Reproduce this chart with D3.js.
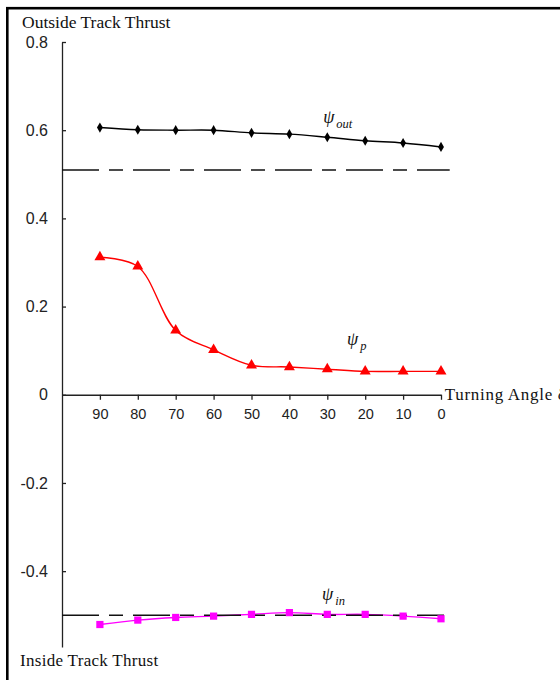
<!DOCTYPE html>
<html lang="en">
<head>
    <meta charset="UTF-8">
    <title>Track Thrust vs Turning Angle</title>
    <script src="https://d3js.org/d3.v7.min.js"></script>
    <style>
        body {
            margin: 0;
            background: #fff;
        }

        .axis text {
            font-family: "Liberation Sans", Arial, sans-serif;
            fill: #222;
        }

        .axis path, .axis line {
            stroke: #222;
            stroke-width: 1.3px;
        }

        .label {
            font-family: "Liberation Serif", "Times New Roman", serif;
            font-size: 17px;
            fill: #111;
        }

        .psi {
            font-family: "Liberation Serif", "Times New Roman", serif;
            font-style: italic;
            fill: #111;
        }
    </style>
</head>
<body>
    <div id="chart"></div>
    <script>
        // values
        const angles = [90, 80, 70, 60, 50, 40, 30, 20, 10, 0];
        const psiOut = [0.606, 0.601, 0.600, 0.600, 0.594, 0.591, 0.584, 0.576, 0.571, 0.562];
        const psiP = [0.312, 0.291, 0.146, 0.102, 0.067, 0.063, 0.058, 0.053, 0.053, 0.053];
        const psiIn = [-0.521, -0.511, -0.505, -0.502, -0.498, -0.494, -0.498, -0.498, -0.502, -0.508];
        const yTicks = [0.8, 0.6, 0.4, 0.2, 0, -0.2, -0.4];
        const refLevels = [0.51, -0.5];
        const refEnds = [-2.3, -0.8];

        const W = 560, H = 680;

        const svg = d3.select("#chart")
            .append("svg")
            .attr("width", W)
            .attr("height", H);

        // frame around the figure (cut off at right and bottom)
        svg.append("rect")
            .attr("x", 7.3).attr("y", 8.2)
            .attr("width", W + 20).attr("height", H + 20)
            .attr("fill", "none")
            .attr("stroke", "#000")
            .attr("stroke-width", 2.6);

        const x = d3.scaleLinear().domain([100, 0]).range([62, 441]);
        const y = d3.scaleLinear().domain([0.8, -0.572]).range([42, 647]);

        // axes
        svg.append("g")
            .attr("class", "axis")
            .attr("transform", `translate(${x(100)},0)`)
            .call(d3.axisLeft(y).tickValues(yTicks).tickSize(-4).tickSizeOuter(0).tickPadding(14)
                .tickFormat(d => d === 0 ? "0" : d.toFixed(1)))
            .call(g => g.selectAll("text").style("font-size", "16px"));

        svg.append("g")
            .attr("class", "axis")
            .attr("transform", `translate(0,${y(0)})`)
            .call(d3.axisBottom(x).tickValues(angles).tickSize(5).tickSizeOuter(0).tickPadding(9))
            .call(g => g.selectAll("text").style("font-size", "14.5px"));

        const series = [
            { name: "out", values: psiOut, color: "#000", symbol: d3.symbolDiamond, size: 30 },
            { name: "p", values: psiP, color: "#ff0000", symbol: d3.symbolTriangle, size: 52 },
            { name: "in", values: psiIn, color: "#ff00ff", symbol: d3.symbolSquare, size: 52 }
        ];

        const line = d3.line()
            .x((d, i) => x(angles[i]))
            .y(d => y(d))
            .curve(d3.curveCatmullRom.alpha(0.5));

        svg.selectAll("path.series")
            .data(series)
            .enter().append("path")
            .attr("class", "series")
            .attr("d", d => line(d.values))
            .attr("fill", "none")
            .attr("stroke", d => d.color)
            .attr("stroke-width", 1.4);

        // dashed reference levels
        svg.selectAll("line.ref")
            .data(refLevels)
            .enter().append("line")
            .attr("class", "ref")
            .attr("x1", x(100))
            .attr("x2", (d, i) => x(refEnds[i]))
            .attr("y1", d => y(d))
            .attr("y2", d => y(d))
            .attr("stroke", "#111")
            .attr("stroke-width", 1.5)
            .attr("stroke-dasharray", "37,10,14,10");

        series.forEach(s => {
            svg.selectAll(null)
                .data(s.values)
                .enter().append("path")
                .attr("transform", (d, i) => `translate(${x(angles[i])},${y(d)})`)
                .attr("d", d3.symbol().type(s.symbol).size(s.size))
                .attr("fill", s.color);
        });

        // series labels (psi with subscripts)
        const psiLabels = [
            { sub: "out", angle: 31.1, value: 0.617 },
            { sub: "p", angle: 24.8, value: 0.113 },
            { sub: "in", angle: 31.4, value: -0.465 }
        ];

        psiLabels.forEach(l => {
            const t = svg.append("text")
                .attr("class", "psi")
                .attr("x", x(l.angle))
                .attr("y", y(l.value))
                .style("font-size", "18px");
            t.append("tspan").text("ψ");
            t.append("tspan")
                .attr("dx", 2)
                .attr("dy", 5)
                .style("font-size", "12.5px")
                .text(l.sub);
        });

        svg.append("text")
            .attr("class", "label")
            .attr("x", 22).attr("y", 28)
            .style("font-size", "17.5px")
            .text("Outside Track Thrust");

        svg.append("text")
            .attr("class", "label")
            .attr("x", 20).attr("y", 666)
            .style("letter-spacing", "0.3px")
            .text("Inside Track Thrust");

        svg.append("text")
            .attr("class", "label")
            .attr("x", x(-1))
            .attr("y", y(0) + 5)
            .style("letter-spacing", "0.7px")
            .text("Turning Angle δ");
    </script>
</body>
</html>
